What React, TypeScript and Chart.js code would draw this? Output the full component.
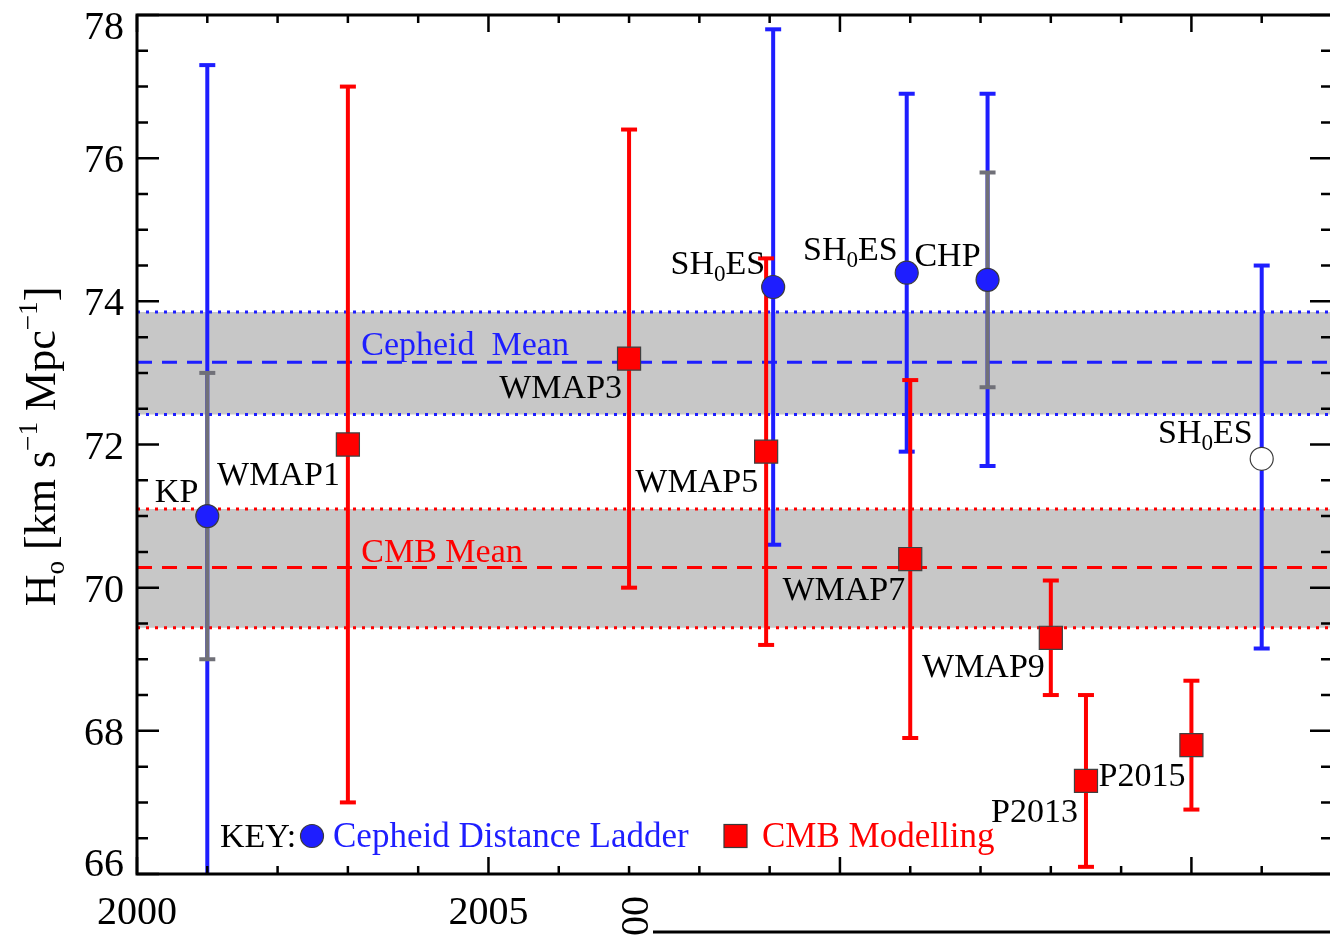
import React, { useEffect, useRef } from 'react';
import { Chart, registerables } from 'chart.js';

Chart.register(...registerables);

const FONT = '"Liberation Serif", "DejaVu Serif", serif';

// ---------- data ----------
const xRange = [2000, 2017];
const yRange = [66, 78];
const xTickLabels = [2000, 2005];
const yTickLabels = [66, 68, 70, 72, 74, 76, 78];

// Cepheid distance ladder
const cephYears = [2001.0, 2009.05, 2010.95, 2012.1, 2016.0];
const cephH0 = [71.0, 74.2, 74.4, 74.3, 71.8];
const cephLow = [64.7, 70.6, 71.9, 71.7, 69.15];
const cephHigh = [77.3, 77.8, 76.9, 76.9, 74.5];
const cephOpen = [false, false, false, false, true];
const cephLabels = ['KP', 'SH_{0}ES', 'SH_{0}ES', 'CHP', 'SH_{0}ES'];

// grey (statistical) bars on KP and CHP
const sysYears = [2001.0, 2012.1];
const sysLow = [69.0, 72.8];
const sysHigh = [73.0, 75.8];

// CMB modelling
const cmbYears = [2003.0, 2007.0, 2008.95, 2011.0, 2013.0, 2013.5, 2015.0];
const cmbH0 = [72.0, 73.2, 71.9, 70.4, 69.3, 67.3, 67.8];
const cmbLow = [67.0, 70.0, 69.2, 67.9, 68.5, 66.1, 66.9];
const cmbHigh = [77.0, 76.4, 74.6, 72.9, 70.1, 68.5, 68.7];
const cmbLabels = ['WMAP1', 'WMAP3', 'WMAP5', 'WMAP7', 'WMAP9', 'P2013', 'P2015'];

// means and 1-sigma bands
const cephMean = 73.15;
const cephBand = [72.42, 73.85];
const cmbMean = 70.28;
const cmbBand = [69.44, 71.1];
const meanLabelYear = 2003.19;
const meanLabels = ['Cepheid  Mean', 'CMB Mean'];
const yTitle = 'H_{o} [km s^{\u22121} Mpc^{\u22121}]';
const legendTexts = ['KEY:', 'Cepheid Distance Ladder', 'CMB Modelling'];

// ---------- layout / style ----------
const BLUE = '#1e1eff';
const RED = '#ff0000';
const GREY = '#707078';
const BAND = '#c7c7c7';
const cephLabelOffsets = [[-9, -14], [-8, -13], [-9, -13], [-7, -14], [-9, -16]];
const cmbLabelOffsets = [[-8, 40], [-7, 39], [-8, 40], [-5, 41], [-6, 39], [-8, 41], [-6, 41]];

type Run = { t: string; k: 'n' | 'sub' | 'sup' };
function parseRich(s: string): Run[] {
  const runs: Run[] = [];
  const re = /([_^])\{([^}]*)\}/g;
  let last = 0;
  let m: RegExpExecArray | null;
  while ((m = re.exec(s))) {
    if (m.index > last) runs.push({ t: s.slice(last, m.index), k: 'n' });
    runs.push({ t: m[2], k: m[1] === '_' ? 'sub' : 'sup' });
    last = re.lastIndex;
  }
  if (last < s.length) runs.push({ t: s.slice(last), k: 'n' });
  return runs;
}

function drawRich(ctx: CanvasRenderingContext2D, s: string, x: number, y: number, size: number, align: string, color: string, smallScale = 0.68) {
  const runs = parseRich(s);
  const small = size * smallScale;
  const widths = runs.map((r) => {
    ctx.font = `${r.k === 'n' ? size : small}px ${FONT}`;
    return ctx.measureText(r.t).width;
  });
  const total = widths.reduce((a, b) => a + b, 0);
  let cx = align === 'right' ? x - total : align === 'center' ? x - total / 2 : x;
  ctx.textAlign = 'left';
  ctx.textBaseline = 'alphabetic';
  ctx.fillStyle = color;
  runs.forEach((r, i) => {
    ctx.font = `${r.k === 'n' ? size : small}px ${FONT}`;
    const dy = r.k === 'sub' ? size * 0.2 : r.k === 'sup' ? -size * 0.42 : 0;
    ctx.fillText(r.t, cx, y + dy);
    cx += widths[i];
  });
}

function barData(xs: number[], lo: number[], hi: number[]) {
  const out: { x: number; y: number | null }[] = [];
  xs.forEach((x, i) => {
    out.push({ x, y: lo[i] }, { x, y: hi[i] }, { x, y: null });
  });
  return out;
}

function hLine(v: number) {
  return [{ x: xRange[0], y: v }, { x: xRange[1], y: v }];
}

const decorPlugin = {
  id: 'decor',
  afterDatasetsDraw(chart: any) {
    const ctx: CanvasRenderingContext2D = chart.ctx;
    const { left, right, top, bottom } = chart.chartArea;
    const xs = chart.scales.x;
    const ys = chart.scales.y;
    ctx.save();

    // frame
    ctx.strokeStyle = '#000';
    ctx.lineWidth = 3;
    ctx.beginPath();
    ctx.rect(left, top, right - left, bottom - top);
    ctx.stroke();

    // tick marks (inward)
    ctx.lineWidth = 2.5;
    ctx.beginPath();
    for (let v = yRange[0]; v <= yRange[1] + 1e-9; v += 0.5) {
      const py = ys.getPixelForValue(v);
      const len = Math.abs(v % 2) < 1e-9 ? 22 : 11;
      ctx.moveTo(left, py); ctx.lineTo(left + len, py);
      ctx.moveTo(right, py); ctx.lineTo(right - len, py);
    }
    for (let v = xRange[0]; v <= xRange[1] + 1e-9; v += 1) {
      const px = xs.getPixelForValue(v);
      const len = Math.abs(v % 5) < 1e-9 ? 17 : 8;
      ctx.moveTo(px, bottom); ctx.lineTo(px, bottom - len);
      ctx.moveTo(px, top); ctx.lineTo(px, top + len);
    }
    ctx.stroke();

    // y tick labels
    ctx.fillStyle = '#000';
    ctx.font = `40px ${FONT}`;
    ctx.textAlign = 'right';
    ctx.textBaseline = 'alphabetic';
    yTickLabels.forEach((v) => {
      const py = ys.getPixelForValue(v);
      let base = py + 14;
      base = Math.max(base, top - 3 + 27);
      base = Math.min(base, bottom + 2);
      ctx.fillText(String(v), left - 13, base);
    });

    // y title
    ctx.save();
    ctx.translate(55, (top + bottom) / 2 + 2);
    ctx.rotate(-Math.PI / 2);
    drawRich(ctx, yTitle, 0, 0, 44, 'center', '#000', 0.62);
    ctx.restore();

    // mean labels
    const mx = xs.getPixelForValue(meanLabelYear);
    drawRich(ctx, meanLabels[0], mx, ys.getPixelForValue(cephMean) - 7, 34, 'left', BLUE);
    drawRich(ctx, meanLabels[1], mx, ys.getPixelForValue(cmbMean) - 6, 34, 'left', RED);

    // data labels
    cephLabels.forEach((s, i) => {
      const px = xs.getPixelForValue(cephYears[i]) + cephLabelOffsets[i][0];
      const py = ys.getPixelForValue(cephH0[i]) + cephLabelOffsets[i][1];
      drawRich(ctx, s, px, py, 34, 'right', '#000');
    });
    cmbLabels.forEach((s, i) => {
      const px = xs.getPixelForValue(cmbYears[i]) + cmbLabelOffsets[i][0];
      const py = ys.getPixelForValue(cmbH0[i]) + cmbLabelOffsets[i][1];
      drawRich(ctx, s, px, py, 34, 'right', '#000');
    });

    // key
    const baseY = bottom - 27;
    const markY = bottom - 38;
    drawRich(ctx, legendTexts[0], left + 83, baseY, 34, 'left', '#000');
    ctx.beginPath();
    ctx.arc(left + 175, markY, 11.5, 0, Math.PI * 2);
    ctx.fillStyle = BLUE;
    ctx.fill();
    ctx.lineWidth = 1.2;
    ctx.strokeStyle = '#3a3a3a';
    ctx.stroke();
    drawRich(ctx, legendTexts[1], left + 196, baseY, 35, 'left', BLUE);
    ctx.fillStyle = RED;
    ctx.fillRect(left + 587, markY - 11.5, 23, 23);
    ctx.strokeRect(left + 587, markY - 11.5, 23, 23);
    drawRich(ctx, legendTexts[2], left + 625, baseY, 35, 'left', RED);

    // fragment of the neighbouring panel below the axis
    ctx.save();
    ctx.translate(648, 916);
    ctx.rotate(-Math.PI / 2);
    ctx.font = `40px ${FONT}`;
    ctx.fillStyle = '#000';
    ctx.textAlign = 'center';
    ctx.textBaseline = 'alphabetic';
    ctx.fillText('00', 0, 0);
    ctx.restore();
    ctx.strokeStyle = '#000';
    ctx.lineWidth = 3;
    ctx.beginPath();
    ctx.moveTo(653, 932);
    ctx.lineTo(chart.width, 932);
    ctx.stroke();

    ctx.restore();
  },
};

export default function App() {
  const ref = useRef<HTMLCanvasElement>(null);
  useEffect(() => {
    const canvas = ref.current;
    if (!canvas) return;
    const datasets: any[] = [
      { data: hLine(cephMean), borderColor: BLUE, borderWidth: 3, borderDash: [15, 10], pointRadius: 0, fill: false, order: 40 },
      { data: hLine(cmbMean), borderColor: RED, borderWidth: 3, borderDash: [15, 10], pointRadius: 0, fill: false, order: 40 },
      { data: hLine(cephBand[1]), borderColor: BLUE, borderWidth: 3, borderDash: [3, 6], pointRadius: 0, fill: false, order: 50 },
      { data: hLine(cephBand[0]), borderColor: BLUE, borderWidth: 3, borderDash: [3, 6], pointRadius: 0, fill: '-1', backgroundColor: BAND, order: 50 },
      { data: hLine(cmbBand[1]), borderColor: RED, borderWidth: 3, borderDash: [3, 6], pointRadius: 0, fill: false, order: 50 },
      { data: hLine(cmbBand[0]), borderColor: RED, borderWidth: 3, borderDash: [3, 6], pointRadius: 0, fill: '-1', backgroundColor: BAND, order: 50 },
      { data: barData(cephYears, cephLow, cephHigh), borderColor: BLUE, borderWidth: 4, pointStyle: 'line', pointRadius: 8, pointBorderWidth: 4, pointBorderColor: BLUE, pointBackgroundColor: BLUE, fill: false, spanGaps: false, order: 30 },
      { data: barData(sysYears, sysLow, sysHigh), borderColor: GREY, borderWidth: 4, pointStyle: 'line', pointRadius: 8, pointBorderWidth: 4, pointBorderColor: GREY, pointBackgroundColor: GREY, fill: false, spanGaps: false, order: 25 },
      { data: barData(cmbYears, cmbLow, cmbHigh), borderColor: RED, borderWidth: 4, pointStyle: 'line', pointRadius: 8, pointBorderWidth: 4, pointBorderColor: RED, pointBackgroundColor: RED, fill: false, spanGaps: false, order: 20 },
      { data: cmbYears.map((x, i) => ({ x, y: cmbH0[i] })), showLine: false, pointStyle: 'rect', pointRadius: 16.3, pointBackgroundColor: RED, pointBorderColor: '#404040', pointBorderWidth: 1.2, fill: false, order: 10 },
      { data: cephYears.map((x, i) => ({ x, y: cephH0[i] })), showLine: false, pointStyle: 'circle', pointRadius: 11.5, pointBackgroundColor: cephOpen.map((o) => (o ? '#ffffff' : BLUE)), pointBorderColor: '#3a3a3a', pointBorderWidth: 1.2, fill: false, order: 5 },
    ];
    const chart = new Chart(canvas, {
      type: 'line',
      data: { datasets },
      options: {
        animation: false,
        responsive: false,
        devicePixelRatio: 1,
        events: [],
        layout: { autoPadding: false, padding: { left: 0, top: 15, right: 13, bottom: 0 } },
        plugins: {
          legend: { display: false },
          tooltip: { enabled: false },
          filler: { drawTime: 'beforeDatasetsDraw', propagate: false },
        },
        scales: {
          x: {
            type: 'linear',
            min: xRange[0],
            max: xRange[1],
            grid: { display: false, drawTicks: false },
            border: { display: false },
            ticks: {
              font: { family: FONT, size: 40 },
              color: '#000',
              padding: 15,
              maxRotation: 0,
              autoSkip: false,
              callback: (v: any) => String(v),
            },
            afterBuildTicks: (s: any) => {
              s.ticks = xTickLabels.map((v) => ({ value: v }));
            },
            afterFit: (s: any) => {
              s.height = 61;
              s.paddingLeft = 0;
              s.paddingRight = 0;
            },
          },
          y: {
            type: 'linear',
            min: yRange[0],
            max: yRange[1],
            grid: { display: false, drawTicks: false },
            border: { display: false },
            ticks: { display: false },
            afterFit: (s: any) => {
              s.width = 137;
              s.paddingTop = 0;
              s.paddingBottom = 0;
            },
          },
        },
      } as any,
      plugins: [decorPlugin],
    } as any);
    return () => chart.destroy();
  }, []);
  return (
    <div style={{ position: 'fixed', left: 0, top: 0, width: 1330, height: 935, overflow: 'hidden', background: '#fff' }}>
      <canvas ref={ref} width={1345} height={935} style={{ display: 'block', width: 1345, height: 935 }} />
    </div>
  );
}
